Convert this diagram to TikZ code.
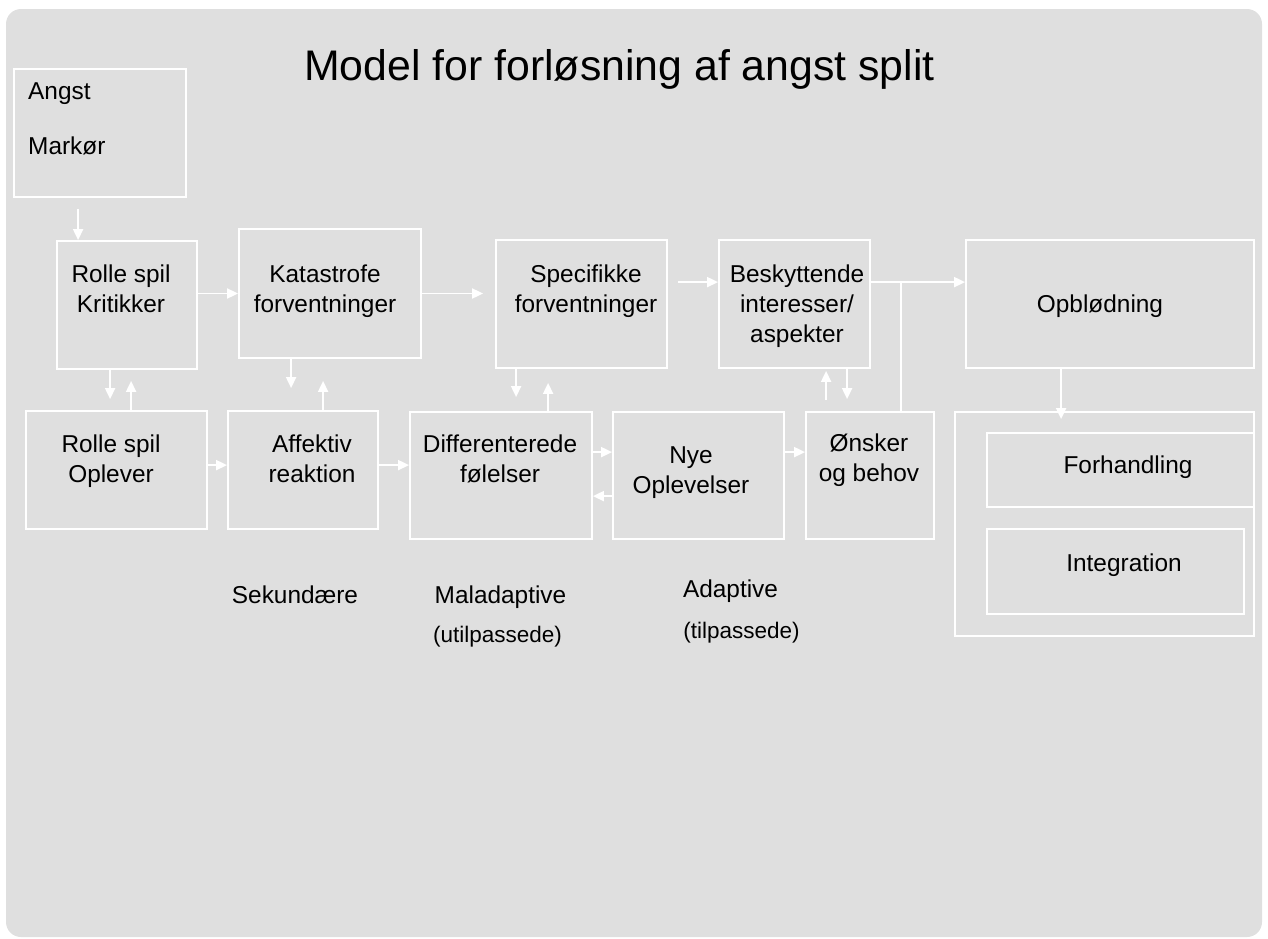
\documentclass[tikz,border=0pt]{standalone}
\usepackage{fontspec}
\setmainfont{Liberation Sans}
\usetikzlibrary{arrows.meta,calc}
\definecolor{bgc}{RGB}{223,223,223}
\tikzset{
  box/.style={draw=white, line width=1.8pt, inner sep=0pt},
  arr/.style={draw=white, line width=1.8pt, -{Triangle[length=11pt,width=10pt]}},
  ln/.style={draw=white, line width=1.8pt},
  txt/.style={inner sep=0pt, align=center, anchor=base, text=black, font=\fontsize{24.4}{30}\selectfont},
  small/.style={txt, font=\fontsize{22.5}{28}\selectfont},
}
\begin{document}
\begin{tikzpicture}[x=1pt,y=-1pt]
\useasboundingbox (0,0) rectangle (1268,938);
\fill[bgc, rounded corners=15pt] (6,9) rectangle (1262,937);

% title
\node[txt, font=\fontsize{42.8}{50}\selectfont] (title) at (619.5,80) {Model for forløsning af angst split};

% boxes
\node[box, minimum width=172pt, minimum height=128pt] (angst) at (100,133) {};
\node[box, minimum width=140pt, minimum height=128pt] (krit) at (127,305) {};
\node[box, minimum width=182pt, minimum height=129pt] (kat) at (330,293.5) {};
\node[box, minimum width=171pt, minimum height=128pt] (spec) at (581.5,304) {};
\node[box, minimum width=151pt, minimum height=128pt] (besk) at (794.5,304) {};
\node[box, minimum width=288pt, minimum height=128pt] (opbl) at (1110,304) {};
\node[box, minimum width=181pt, minimum height=118pt] (opl) at (116.5,470) {};
\node[box, minimum width=150pt, minimum height=118pt] (aff) at (303,470) {};
\node[box, minimum width=182pt, minimum height=127pt] (diff) at (501,475.5) {};
\node[box, minimum width=171pt, minimum height=127pt] (nye) at (698.5,475.5) {};
\node[box, minimum width=128pt, minimum height=127pt] (onsk) at (870,475.5) {};
\node[box, minimum width=299pt, minimum height=224pt] (outer) at (1104.5,524) {};
\node[box, minimum width=267pt, minimum height=74pt] (forh) at (1120.5,470) {};
\node[box, minimum width=257pt, minimum height=85pt] (integ) at (1115.5,571.5) {};

% texts (anchor base = baseline of the last line)
\node[txt, align=left, anchor=base west, font=\fontsize{24.4}{55}\selectfont] (angstt) at (28,154) {Angst\\Markør};
\node[txt] (kritt) at (121,312) {Rolle spil\\Kritikker};
\node[txt] (katt) at (325,312) {Katastrofe\\forventninger};
\node[txt] (spect) at (586,312) {Specifikke\\forventninger};
\node[txt] (beskt) at (797,342) {Beskyttende\\interesser/\\aspekter};
\node[txt] (opblt) at (1100,312) {Opblødning};
\node[txt] (oplt) at (111,482) {Rolle spil\\Oplever};
\node[txt] (afft) at (312,482) {Affektiv\\reaktion};
\node[txt] (difft) at (500,482) {Differenterede\\følelser};
\node[txt] (nyet) at (691,493) {Nye\\Oplevelser};
\node[txt] (onskt) at (869,481) {Ønsker\\og behov};
\node[txt] (forht) at (1128,473) {Forhandling};
\node[txt] (integt) at (1124,571) {Integration};
\node[txt] (sek) at (295,603) {Sekundære};
\node[txt] (mal) at (500.5,603) {Maladaptive};
\node[small] (utilp) at (497.5,642) {(utilpassede)};
\node[txt] (adapt) at (730.5,597) {Adaptive};
\node[small] (tilp) at (741.5,638) {(tilpassede)};

% connectors
\path ($(krit.north west)+(22,0)$) coordinate (p1);
\draw[arr, shorten <=11pt] (angst.south -| p1) -- (p1);
\draw[arr] (krit.east |- kat.west) -- (kat.west);
\draw[arr, shorten >=12pt] (kat.east) -- (kat.east -| spec.west);
\draw[arr, shorten <=10pt] ($(spec.north east)+(0,43)$) coordinate (p4) -- (p4 -| besk.west);
\draw[arr] ($(besk.north east)+(0,43)$) coordinate (p5) -- (p5 -| opbl.west);
\coordinate (j) at ($(onsk.north west)+(96,0)$);
\draw[ln] (j) -- (j |- p5);
\draw[arr, shorten >=11pt] ($(krit.south west)+(54,0)$) coordinate (p6) -- (p6 |- opl.north);
\draw[arr, shorten >=11pt] ($(opl.north west)+(106,0)$) coordinate (p7) -- (p7 |- krit.south);
\draw[arr, shorten >=22pt] ($(kat.south west)+(53,0)$) coordinate (p8) -- (p8 |- aff.north);
\draw[arr, shorten >=22pt] ($(aff.north west)+(96,0)$) coordinate (p9) -- (p9 |- kat.south);
\draw[arr, shorten >=14pt] ($(spec.south west)+(21,0)$) coordinate (p10) -- (p10 |- diff.north);
\draw[arr, shorten >=14pt] ($(diff.north west)+(139,0)$) coordinate (p11) -- (p11 |- spec.south);
\draw[arr, shorten <=11pt, shorten >=2pt] ($(onsk.north west)+(21,0)$) coordinate (p12) -- (p12 |- besk.south);
\draw[arr, shorten >=12pt] ($(besk.south west)+(129,0)$) coordinate (p13) -- (p13 |- onsk.north);
\draw[arr] ($(opl.north east)+(0,55)$) coordinate (p14) -- (p14 -| aff.west);
\draw[arr] ($(aff.north east)+(0,55)$) coordinate (p15) -- (p15 -| diff.west);
\draw[arr] ($(diff.north east)+(0,41)$) coordinate (p16) -- (p16 -| nye.west);
\draw[arr] ($(nye.north west)+(0,85)$) coordinate (p17) -- (p17 -| diff.east);
\draw[arr] ($(nye.north east)+(0,41)$) coordinate (p18) -- (p18 -| onsk.west);
\draw[arr, shorten >=-8pt] ($(opbl.south west)+(96,0)$) coordinate (p19) -- (p19 |- outer.north);
\end{tikzpicture}
\end{document}
